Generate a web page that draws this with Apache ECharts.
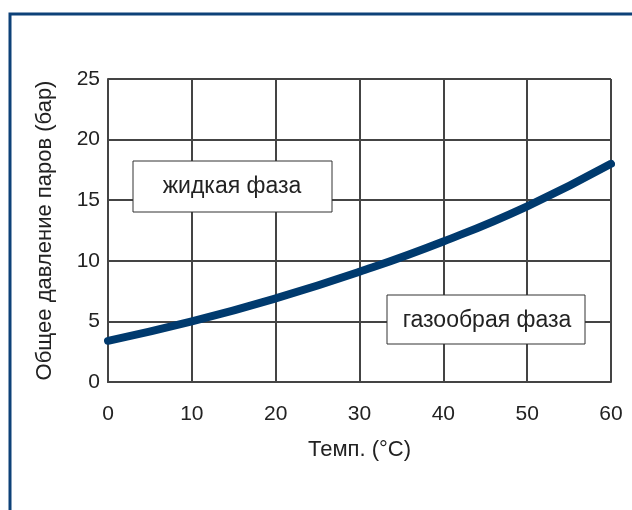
<!DOCTYPE html>
<html>
<head>
<meta charset="utf-8">
<script src="https://cdn.jsdelivr.net/npm/echarts@6/dist/echarts.min.js"></script>
<style>
  html, body { margin: 0; padding: 0; background: #fff; }
  #chart { width: 632px; height: 510px; }
</style>
</head>
<body>
<div id="chart"></div>
<script>
  // температура, °C
  var temps = [0, 10, 20, 30, 40, 50, 60];
  // общее давление паров, бар
  var pressure = [3.4, 5.0, 6.9, 9.1, 11.6, 14.5, 18.0];
  var liquidLabel = 'жидкая фаза';
  var gasLabel = 'газообрая фаза';

  var chart = echarts.init(document.getElementById('chart'));
  var font = 'Liberation Sans, Arial, sans-serif';
  var gridColor = '#444';

  chart.setOption({
    animation: false,
    grid: { left: 108, right: 21, top: 79, bottom: 128 },
    xAxis: {
      type: 'value',
      min: 0, max: 60, interval: 10,
      name: 'Темп. (°C)',
      nameLocation: 'middle',
      nameGap: 57,
      nameTextStyle: { color: '#222', fontSize: 22, fontFamily: font },
      axisLine: { show: true, lineStyle: { color: gridColor, width: 2 } },
      axisTick: { show: false },
      axisLabel: { color: '#222', fontSize: 21, fontFamily: font, margin: 22 },
      splitLine: { show: true, lineStyle: { color: gridColor, width: 2 } }
    },
    yAxis: {
      type: 'value',
      min: 0, max: 25, interval: 5,
      name: 'Общее давление паров (бар)',
      nameLocation: 'middle',
      nameGap: 52,
      nameTextStyle: { color: '#222', fontSize: 22, fontFamily: font },
      axisLine: { show: true, lineStyle: { color: gridColor, width: 2 } },
      axisTick: { show: false },
      axisLabel: { color: '#222', fontSize: 21, fontFamily: font, margin: 8 },
      splitLine: { show: true, lineStyle: { color: gridColor, width: 2 } }
    },
    series: [{
      type: 'line',
      data: temps.map(function (t, i) { return [t, pressure[i]]; }),
      smooth: true,
      showSymbol: false,
      lineStyle: { color: '#003a6e', width: 8, cap: 'round' }
    }],
    graphic: [
      {
        type: 'rect',
        shape: { x: 10, y: 14, width: 640, height: 520 },
        style: { fill: 'none', stroke: '#0d4178', lineWidth: 3 },
        silent: true
      },
      {
        type: 'rect',
        shape: { x: 133, y: 161, width: 199, height: 51 },
        style: { fill: '#fff', stroke: '#333', lineWidth: 1 },
        z: 10
      },
      {
        type: 'text',
        x: 232, y: 187,
        style: { text: liquidLabel, fill: '#222', fontSize: 23, fontFamily: font, align: 'center', verticalAlign: 'middle' },
        z: 11
      },
      {
        type: 'rect',
        shape: { x: 387, y: 295, width: 198, height: 49 },
        style: { fill: '#fff', stroke: '#333', lineWidth: 1 },
        z: 10
      },
      {
        type: 'text',
        x: 487, y: 321,
        style: { text: gasLabel, fill: '#222', fontSize: 23, fontFamily: font, align: 'center', verticalAlign: 'middle' },
        z: 11
      }
    ]
  });
</script>
</body>
</html>
